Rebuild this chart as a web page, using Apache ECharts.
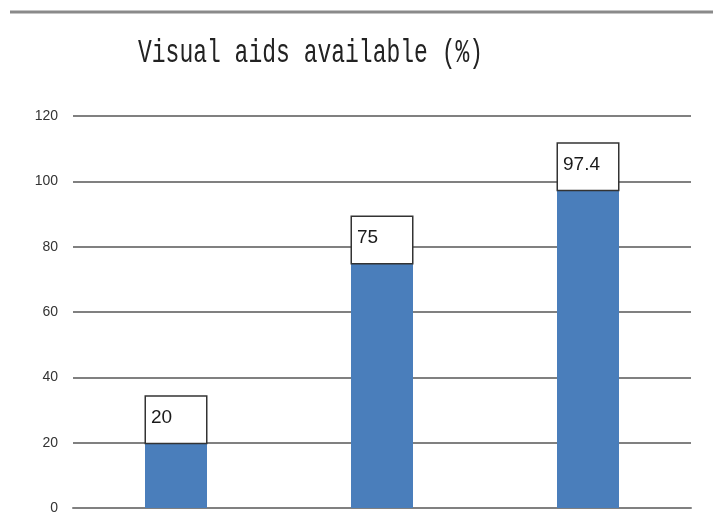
<!DOCTYPE html>
<html><head><meta charset="utf-8">
<script src="https://cdn.jsdelivr.net/npm/echarts@6/dist/echarts.min.js"></script>
<style>html,body{margin:0;padding:0;background:#fff}#c{width:713px;height:515px}</style>
</head><body><div id="c"></div>
<script>
const categories = ['A', 'B', 'C'];
const values = [20, 75, 97.4];
const yTicks = [0, 20, 40, 60, 80, 100, 120];
const titleText = 'Visual aids available (%)';

const chart = echarts.init(document.getElementById('c'), null, {renderer: 'canvas'});
chart.setOption({
  animation: false,
  backgroundColor: '#fff',
  graphic: [
    {type: 'line', shape: {x1: 10, y1: 12, x2: 713, y2: 12}, style: {stroke: '#8a8a8a', lineWidth: 3}},
    {type: 'text', x: 138, y: 53, scaleY: 1.45,
     style: {text: titleText, font: '23px "Liberation Mono", monospace', fill: '#222', textVerticalAlign: 'middle'}}
  ],
  grid: {left: 73, right: 22, top: 116, bottom: 3, containLabel: false},
  xAxis: {
    type: 'category', data: categories,
    axisLine: {show: true, lineStyle: {color: '#808080', width: 2}},
    axisTick: {show: false}, axisLabel: {show: false}
  },
  yAxis: {
    type: 'value', min: yTicks[0], max: yTicks[yTicks.length - 1], interval: 20,
    axisLine: {show: false}, axisTick: {show: false},
    axisLabel: {color: '#333', fontSize: 14, fontFamily: 'Liberation Sans Narrow, Liberation Sans, Arial', margin: 15},
    splitLine: {lineStyle: {color: '#808080', width: 2}}
  },
  series: [{
    type: 'bar', data: values, barWidth: 62,
    itemStyle: {color: '#4a7ebb'},
    label: {
      show: true, position: 'top', distance: 0,
      formatter: '{v|{c}}',
      backgroundColor: '#fff', borderColor: '#333', borderWidth: 1.5,
      padding: [10, 4, 14, 5],
      rich: {v: {width: 51, height: 22, lineHeight: 22, align: 'left', fontSize: 19, color: '#1a1a1a',
                 fontFamily: 'Liberation Sans Narrow, Liberation Sans, Arial'}}
    }
  }]
});
</script></body></html>
